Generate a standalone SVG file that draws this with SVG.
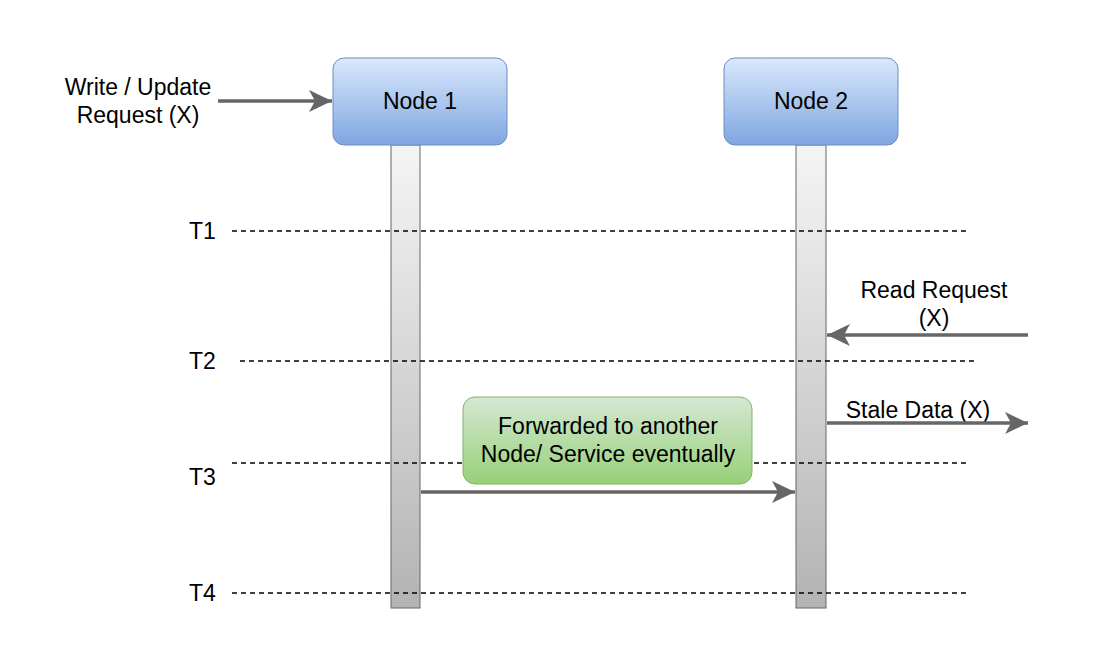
<svg xmlns="http://www.w3.org/2000/svg" width="1100" height="667" viewBox="0 0 1100 667">
<style>
text{font-family:"Liberation Sans",Arial,Helvetica,sans-serif;font-size:23px;fill:#000;text-anchor:middle}
.dash{stroke:#000;stroke-width:1.5;stroke-dasharray:5 4;fill:none}
.conn{stroke:#666;stroke-width:3.5;fill:none}
.life{fill:url(#gGray);stroke:#666;stroke-width:1}
.node{fill:url(#gBlue);stroke:#6c8ebf;stroke-width:1}
.tl{text-anchor:start}
</style>
<defs>
<linearGradient id="gBlue" x1="0" y1="0" x2="0" y2="1">
<stop offset="0" stop-color="#dae8fc"/><stop offset="1" stop-color="#7ea6e0"/>
</linearGradient>
<linearGradient id="gGray" x1="0" y1="0" x2="0" y2="1">
<stop offset="0" stop-color="#f5f5f5"/><stop offset="1" stop-color="#b3b3b3"/>
</linearGradient>
<linearGradient id="gGreen" x1="0" y1="0" x2="0" y2="1">
<stop offset="0" stop-color="#d5e8d4"/><stop offset="1" stop-color="#97d077"/>
</linearGradient>
<marker id="arr" markerUnits="userSpaceOnUse" markerWidth="26" markerHeight="26" refX="23" refY="11" orient="auto">
<path d="M0,0 L23,11 L0,22 L6,11 Z" fill="#666"/>
</marker>
</defs>
<rect width="1100" height="667" fill="#fff"/>

<g id="lifeline1"><rect class="life" x="391" y="145" width="29" height="463"/></g>
<g id="lifeline2"><rect class="life" x="796" y="145" width="30" height="463"/></g>

<g id="timelines">
<text class="tl" x="189" y="239">T1</text>
<line class="dash" x1="232" y1="231" x2="966" y2="231"/>
<text class="tl" x="189" y="369">T2</text>
<line class="dash" x1="240" y1="361" x2="975" y2="361"/>
<text class="tl" x="189" y="485">T3</text>
<line class="dash" x1="232" y1="463" x2="966" y2="463"/>
<text class="tl" x="189" y="601">T4</text>
<line class="dash" x1="232" y1="593" x2="966" y2="593"/>
</g>

<g id="node1">
<rect class="node" x="333" y="58" width="174" height="87" rx="11"/>
<text x="420" y="109">Node 1</text>
</g>
<g id="node2">
<rect class="node" x="724" y="58" width="174" height="87" rx="11"/>
<text x="811" y="109">Node 2</text>
</g>

<g id="note">
<rect x="463" y="397" width="289" height="87" rx="12" fill="url(#gGreen)" stroke="#82b366" stroke-width="1"/>
<text x="608" y="434">Forwarded to another</text>
<text x="608" y="462">Node/ Service eventually</text>
</g>

<g id="labels">
<text x="138" y="95">Write / Update</text>
<text x="138" y="123">Request (X)</text>
<text x="934" y="298">Read Request</text>
<text x="934" y="326">(X)</text>
<text x="918" y="418">Stale Data (X)</text>
</g>

<g id="connectors">
<line class="conn" x1="218" y1="101" x2="332" y2="101" marker-end="url(#arr)"/>
<line class="conn" x1="1028" y1="335" x2="827" y2="335" marker-end="url(#arr)"/>
<line class="conn" x1="827" y1="423" x2="1028" y2="423" marker-end="url(#arr)"/>
<line class="conn" x1="421" y1="492" x2="795" y2="492" marker-end="url(#arr)"/>
</g>
</svg>
